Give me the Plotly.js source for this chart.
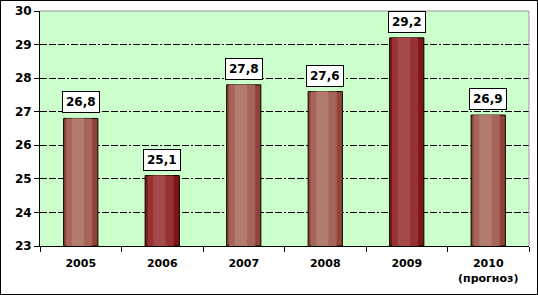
<!DOCTYPE html>
<html><head><meta charset="utf-8">
<script src="https://cdn.plot.ly/plotly-3.0.1.min.js"></script>
<style>html,body{margin:0;padding:0;background:#fff}#c{width:536px;height:293px;border:1px solid #000}</style>
</head><body><div id="c"></div>
<script>
const years = ['2005','2006','2007','2008','2009','2010<br>(прогноз)'];
const values = [26.8, 25.1, 27.8, 27.6, 29.2, 26.9];
const labels = ['26,8','25,1','27,8','27,6','29,2','26,9'];
const dark = [false, true, false, false, true, false];

const edge = dark.map(d => d ? '#7e1616' : '#924338');
const mid = dark.map(d => d ? '#983232' : '#a66558');
const hi = dark.map(d => d ? '#a44a4a' : '#b27c6d');

const heights = values.map(v => v - 23);
function bar(width, offset, color, line) {
  const t = {type:'bar', x: years, y: heights, base: 23, width: width, hoverinfo:'skip',
    marker:{color: color, line: line}};
  if (offset !== null) t.offset = offset;
  return t;
}
const traces = [
  bar(0.42, null, edge, {color:'#000', width:1}),
  bar(0.32, -0.18, mid, {width:0}),
  bar(0.15, -0.11, hi, {width:0})
];

const annotations = years.map((yr,i) => ({
  x: i, y: values[i], xref:'x', yref:'y', text: labels[i], showarrow:false,
  yanchor:'bottom', yshift:5, bgcolor:'#fff', bordercolor:'#000', borderwidth:1, borderpad:3,
  font:{family:'DejaVu Sans', size:12, color:'#000', weight:'bold'}
}));

const layout = {
  width:536, height:293,
  margin:{l:39, r:8, t:10, b:48},
  paper_bgcolor:'#fff', plot_bgcolor:'#ccffcc',
  barmode:'overlay', showlegend:false,
  font:{family:'DejaVu Sans', color:'#000'},
  xaxis:{type:'category', tickson:'boundaries',
    ticks:'outside', ticklen:5, tickcolor:'#000', showline:true, linecolor:'#000', linewidth:1,
    showgrid:false, ticklabelstandoff:7,
    tickfont:{family:'DejaVu Sans', size:11, color:'#000', weight:'bold'}},
  yaxis:{range:[23,30], dtick:1, ticks:'outside', ticklen:5, tickcolor:'#000', showline:true,
    linecolor:'#000', linewidth:1, showgrid:true, gridcolor:'#000',
    griddash:'7px,2px,7px,2px,7px,2px,2px,2px', gridwidth:1,
    zeroline:false,
    tickfont:{family:'DejaVu Sans', size:12, color:'#000', weight:'bold'}},
  shapes:[
    {type:'line', xref:'paper', yref:'paper', x0:0, x1:1, y0:1, y1:1, line:{color:'#999', width:1}, layer:'above'},
    {type:'line', xref:'paper', yref:'paper', x0:1, x1:1, y0:0, y1:1, line:{color:'#999', width:1}, layer:'above'}
  ],
  annotations: annotations
};
Plotly.newPlot('c', traces, layout, {staticPlot:true, displayModeBar:false});
</script></body></html>
